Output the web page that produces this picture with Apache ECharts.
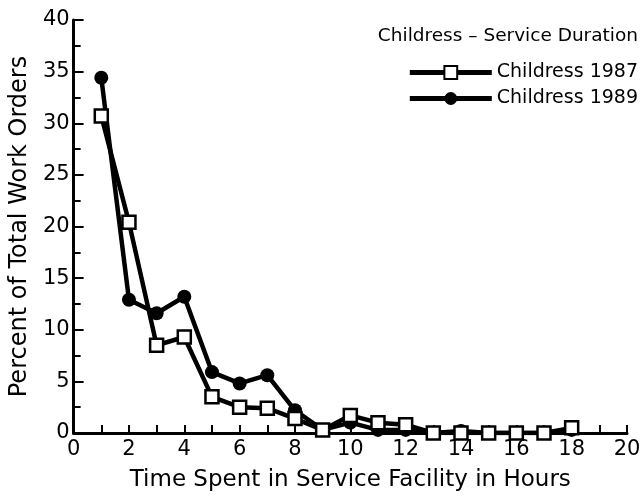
<!DOCTYPE html>
<html>
<head>
<meta charset="utf-8">
<script src="https://cdn.jsdelivr.net/npm/echarts@6/dist/echarts.min.js"></script>
<style>
  html, body { margin: 0; padding: 0; background: #fff; }
  #chart { width: 644px; height: 497px; }
</style>
</head>
<body>
<div id="chart"></div>
<script>
const hours = [1, 2, 3, 4, 5, 6, 7, 8, 9, 10, 11, 12, 13, 14, 15, 16, 17, 18]
const childress1987 = [30.7, 20.4, 8.5, 9.3, 3.5, 2.5, 2.4, 1.4, 0.3, 1.7, 1.0, 0.8, 0, 0, 0, 0, 0, 0.5]
const childress1989 = [34.4, 12.9, 11.6, 13.2, 5.9, 4.8, 5.6, 2.2, 0.3, 1.0, 0.3, 0.3, 0, 0.2, 0, 0, 0, 0.3]

const font = 'DejaVu Sans'
const pairs = (ys) => hours.map((h, i) => [h, ys[i]])

const chart = echarts.init(document.getElementById('chart'))

chart.setOption({
  animation: false,
  backgroundColor: '#fff',
  textStyle: { fontFamily: font, color: '#000' },
  title: {
    text: 'Childress – Service Duration',
    right: 6,
    top: 27,
    padding: 0,
    textStyle: { fontFamily: font, fontSize: 18.5, fontWeight: 'normal', color: '#000' }
  },
  legend: {
    data: ['Childress 1987', 'Childress 1989'],
    orient: 'vertical',
    right: 6,
    top: 63,
    padding: 0,
    itemWidth: 82,
    itemHeight: 16,
    itemGap: 7,
    lineStyle: { width: 5, color: '#000' },
    textStyle: { fontFamily: font, fontSize: 19, color: '#000' }
  },
  grid: { left: 73, right: 17, top: 20, bottom: 64 },
  xAxis: {
    type: 'value',
    min: 0,
    max: 20,
    interval: 2,
    name: 'Time Spent in Service Facility in Hours',
    nameLocation: 'middle',
    nameGap: 36,
    nameTextStyle: { fontFamily: font, fontSize: 23, color: '#000' },
    axisLine: { show: true, lineStyle: { color: '#000', width: 3 } },
    axisTick: { show: true, inside: true, length: 8, lineStyle: { color: '#000', width: 2 } },
    minorTick: { show: true, splitNumber: 2, length: 8, lineStyle: { color: '#000', width: 2 } },
    axisLabel: { fontFamily: font, fontSize: 21, color: '#000', margin: 6 },
    splitLine: { show: false }
  },
  yAxis: {
    type: 'value',
    min: 0,
    max: 40,
    interval: 5,
    name: 'Percent of Total Work Orders',
    nameLocation: 'middle',
    nameGap: 41,
    nameTextStyle: { fontFamily: font, fontSize: 24, color: '#000' },
    axisLine: { show: true, lineStyle: { color: '#000', width: 3 } },
    axisTick: { show: true, inside: true, length: 10, lineStyle: { color: '#000', width: 2 } },
    minorTick: { show: true, splitNumber: 2, length: 7, lineStyle: { color: '#000', width: 2 } },
    axisLabel: { fontFamily: font, fontSize: 21, color: '#000', margin: 4 },
    splitLine: { show: false }
  },
  series: [
    {
      name: 'Childress 1989',
      type: 'line',
      data: pairs(childress1989),
      symbol: 'circle',
      symbolSize: 14,
      lineStyle: { color: '#000', width: 4.5 },
      itemStyle: { color: '#000', borderColor: '#000', borderWidth: 0 },
      z: 2
    },
    {
      name: 'Childress 1987',
      type: 'line',
      data: pairs(childress1987),
      symbol: 'rect',
      symbolSize: 13,
      lineStyle: { color: '#000', width: 4.5 },
      itemStyle: { color: '#fff', borderColor: '#000', borderWidth: 2.5 },
      z: 3
    }
  ]
})
</script>
</body>
</html>
